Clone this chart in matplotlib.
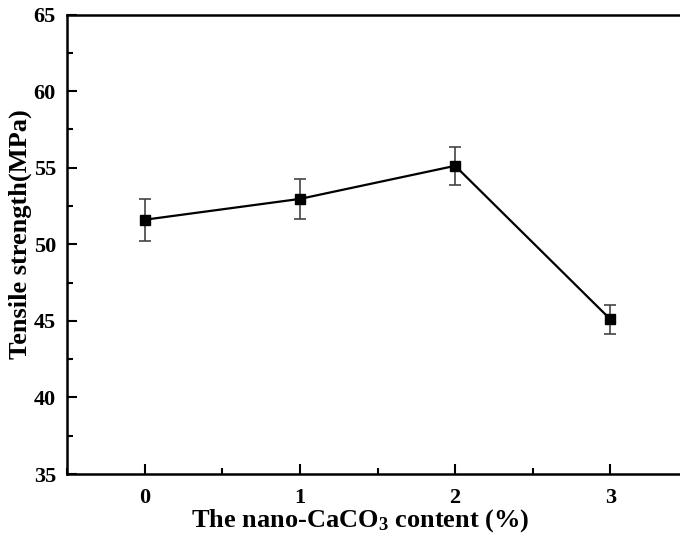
import matplotlib
matplotlib.use("Agg")
import matplotlib.pyplot as plt
from matplotlib.ticker import MultipleLocator

content = [0, 1, 2, 3]
strength = [51.6, 52.96, 55.12, 45.1]
err = [1.37, 1.32, 1.25, 0.96]

plt.rcParams['font.family'] = ['Liberation Serif', 'DejaVu Serif']
plt.rcParams['font.weight'] = 'bold'
plt.rcParams['mathtext.fontset'] = 'custom'
plt.rcParams['mathtext.rm'] = 'Liberation Serif:bold'
plt.rcParams['mathtext.bf'] = 'Liberation Serif:bold'
plt.rcParams['mathtext.it'] = 'Liberation Serif:bold'

fig = plt.figure(figsize=(6.8, 5.39), dpi=100)
ax = fig.add_axes([67/680, 65/539, 621/680, 459.5/539])

ax.errorbar(content, strength, yerr=err, fmt='none', ecolor='#444444',
            elinewidth=1.2, capsize=4.5, capthick=1.2, zorder=2)
ax.plot(content, strength, color='black', lw=1.6, marker='s', markersize=7.5,
        markerfacecolor='black', markeredgecolor='black', zorder=3)

ax.set_xlim(-0.5, 3.5)
ax.set_ylim(35, 65)
ax.xaxis.set_major_locator(MultipleLocator(1))
ax.xaxis.set_minor_locator(MultipleLocator(0.5))
ax.yaxis.set_major_locator(MultipleLocator(5))
ax.yaxis.set_minor_locator(MultipleLocator(2.5))
ax.tick_params(which='both', direction='in', top=False, right=False, width=1.5)
ax.tick_params(which='major', length=7, labelsize=16)
ax.tick_params(axis='x', which='major', pad=10)
ax.tick_params(axis='y', which='major', pad=8)
ax.tick_params(which='minor', length=4.5)
for lab in ax.get_xticklabels() + ax.get_yticklabels():
    lab.set_fontweight('bold')
for s in ax.spines.values():
    s.set_linewidth(1.8)

ax.set_xlabel(r'The nano-CaCO$_\mathrm{3}$ content (%)', fontsize=19, fontweight='bold')
ax.set_ylabel('Tensile strength(MPa)', fontsize=19, fontweight='bold')
ax.xaxis.set_label_coords(0.472, -0.073)
ax.yaxis.set_label_coords(-0.057, 0.522)

fig.savefig('out.png', dpi=100)
